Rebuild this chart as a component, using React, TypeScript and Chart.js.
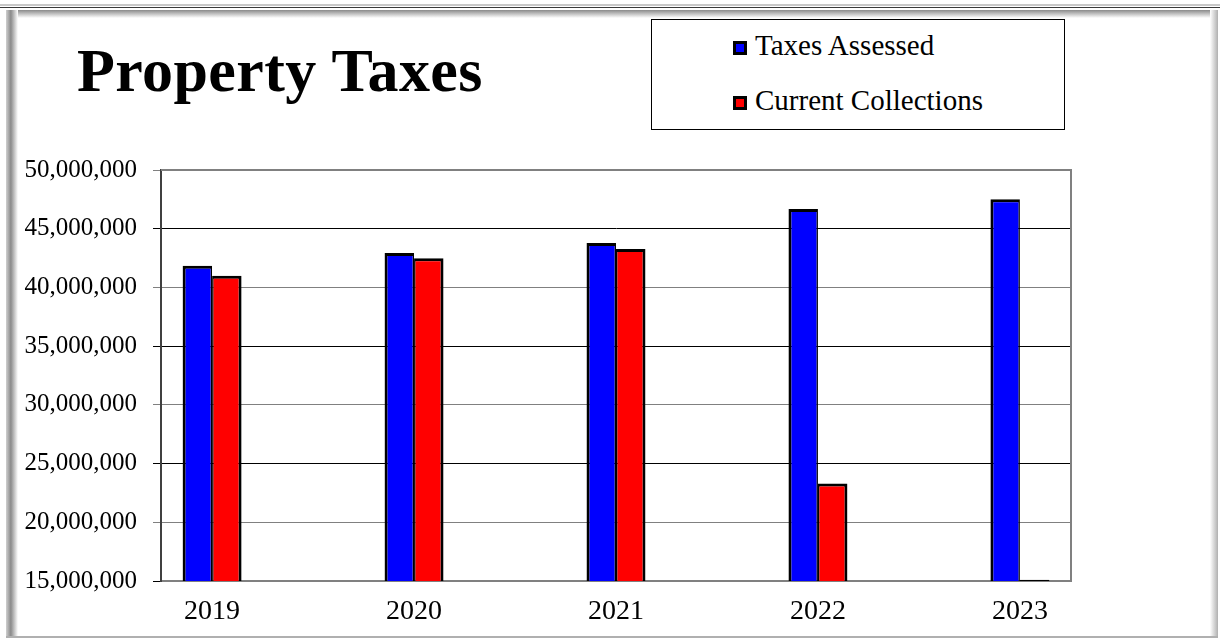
import React, { useEffect, useRef } from "react";
import { Chart, registerables } from "chart.js";

Chart.register(...registerables);

const chartTitle = "Property Taxes";
const years = [2019, 2020, 2021, 2022, 2023];
const taxesAssessed = [41850000, 42930000, 43780000, 46680000, 47500000];
const currentCollections = [41000000, 42480000, 43270000, 23310000, 15100000];
const seriesNames = ["Taxes Assessed", "Current Collections"];
const seriesColors = ["#0000FF", "#FF0000"];
const yMin = 15000000;
const yMax = 50000000;
const yStep = 5000000;

const SERIF = '"Liberation Serif", "Times New Roman", serif';

export default function App() {
  const ref = useRef<HTMLCanvasElement | null>(null);

  useEffect(() => {
    const plotFrame = {
      id: "plotFrame",
      beforeDatasetsDraw(chart: any) {
        const { ctx, chartArea: a } = chart;
        ctx.save();
        ctx.strokeStyle = "#808080";
        ctx.lineWidth = 2;
        ctx.beginPath();
        ctx.moveTo(a.left, a.top);
        ctx.lineTo(a.right, a.top);
        ctx.lineTo(a.right, a.bottom);
        ctx.stroke();
        ctx.restore();
      },
    };

    const series = [taxesAssessed, currentCollections];
    const chart = new Chart(ref.current as HTMLCanvasElement, {
      type: "bar",
      data: {
        datasets: series.map((vals, k) => ({
          label: seriesNames[k],
          data: years.map((x, i) => ({ x, y: vals[i] })),
          backgroundColor: seriesColors[k],
          borderColor: "#000000",
          borderWidth:
            k === 0
              ? { top: 3, left: 3, bottom: 3, right: 1.5 }
              : { top: 3, left: 1.5, bottom: 3, right: 3 },
          borderSkipped: false,
          inflateAmount: 0,
          categoryPercentage: 0.292,
          barPercentage: 1,
        })),
      },
      options: {
        responsive: false,
        animation: false,
        layout: { padding: { top: 170, right: 149, bottom: 0, left: 0 } },
        plugins: {
          legend: { display: false },
          title: { display: false },
          tooltip: { enabled: false },
        },
        scales: {
          x: {
            type: "linear",
            min: 2018.747,
            max: 2023.253,
            bounds: "data",
            offset: false,
            grid: { display: false, drawTicks: false, offset: false },
            border: { display: true, color: "#808080", width: 2 },
            ticks: {
              font: { family: SERIF, size: 28 },
              color: "#000000",
              padding: 14,
              callback: (v: any) => String(v),
            },
            afterBuildTicks: (s: any) => {
              s.ticks = years.map((v) => ({ value: v }));
            },
            afterFit: (s: any) => {
              s.height = 60;
            },
          },
          y: {
            min: yMin,
            max: yMax,
            ticks: {
              stepSize: yStep,
              font: { family: SERIF, size: 25 },
              color: "#000000",
              padding: 16,
              callback: (v: any) => Number(v).toLocaleString("en-US"),
            },
            grid: {
              color: (c: any) => (c.index % 2 === 0 ? "#000000" : "#808080"),
              lineWidth: 1,
              tickLength: 8,
            },
            border: { color: "#404040", width: 2 },
            afterFit: (s: any) => {
              s.width = 161;
            },
          },
        },
      } as any,
      plugins: [plotFrame],
    });
    return () => chart.destroy();
  }, []);

  const legendTextStyle = (top: number): React.CSSProperties => ({
    position: "absolute",
    left: 755,
    top,
    fontFamily: SERIF,
    fontSize: 29,
    lineHeight: 1,
    whiteSpace: "nowrap",
    color: "#000",
  });

  return (
    <div
      style={{
        position: "fixed",
        left: 0,
        top: 0,
        width: 1220,
        height: 641,
        background: "#ffffff",
        overflow: "hidden",
      }}
    >
      {/* frame */}
      <div style={{ position: "absolute", left: 0, right: 0, top: 4, height: 2, background: "#c8c8c8" }} />
      <div style={{ position: "absolute", left: 0, right: 0, top: 7, height: 1, background: "#3a3a3a" }} />
      <div
        style={{
          position: "absolute",
          left: 6,
          right: 2,
          top: 10,
          height: 8,
          background: "linear-gradient(to bottom, #8a8a8a, #ffffff)",
        }}
      />
      <div
        style={{
          position: "absolute",
          left: 6,
          top: 10,
          width: 12,
          bottom: 3,
          background: "linear-gradient(to right, #d0d0d0, #8a8a8a 40%, #ffffff)",
        }}
      />
      <div
        style={{
          position: "absolute",
          right: 2,
          top: 10,
          width: 8,
          bottom: 3,
          background: "linear-gradient(to right, #ffffff, #b0b0b0)",
        }}
      />
      <div style={{ position: "absolute", left: 6, right: 2, top: 636, height: 2, background: "#b0b0b0" }} />

      <canvas
        ref={ref}
        width={1220}
        height={641}
        style={{ position: "absolute", left: 0, top: 0, width: 1220, height: 641 }}
      />

      {/* title */}
      <div
        style={{
          position: "absolute",
          left: 77,
          top: 39,
          fontFamily: SERIF,
          fontWeight: "bold",
          fontSize: 62,
          lineHeight: 1,
          letterSpacing: 0.4,
          whiteSpace: "nowrap",
          color: "#000",
        }}
      >
        {chartTitle}
      </div>

      {/* legend */}
      <div
        style={{
          position: "absolute",
          left: 651,
          top: 19,
          width: 414,
          height: 111,
          boxSizing: "border-box",
          border: "1px solid #000",
          background: "#fff",
        }}
      />
      {seriesNames.map((name, k) => {
        const baseline = k === 0 ? 55 : 110;
        return (
          <React.Fragment key={name}>
            <div
              style={{
                position: "absolute",
                left: 733,
                top: baseline - 14,
                width: 14,
                height: 14,
                boxSizing: "border-box",
                border: "3px solid #000",
                background: seriesColors[k],
              }}
            />
            <div style={legendTextStyle(baseline - 24.3)}>{name}</div>
          </React.Fragment>
        );
      })}
    </div>
  );
}
